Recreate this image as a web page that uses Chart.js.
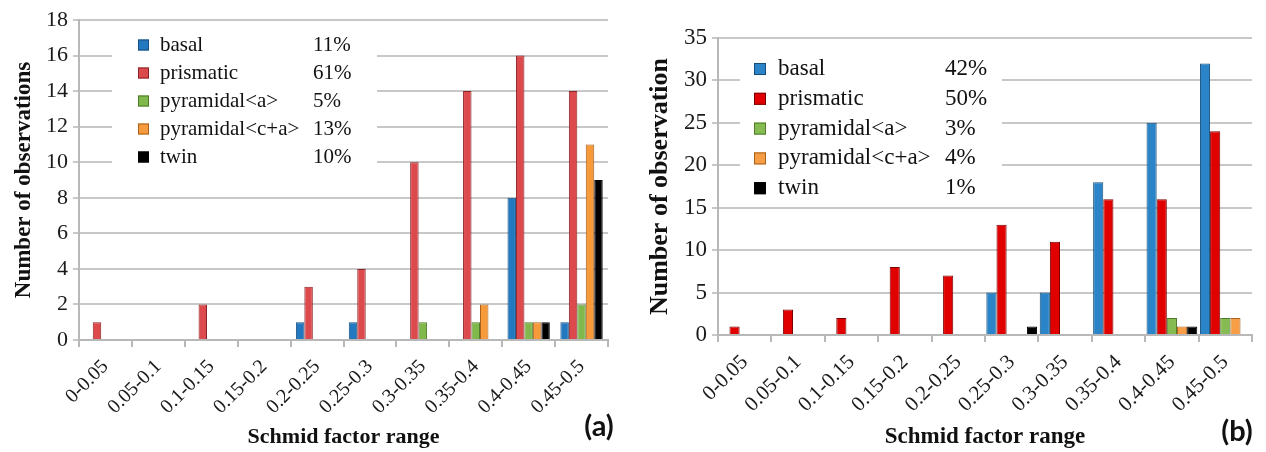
<!DOCTYPE html>
<html>
<head>
<meta charset="utf-8">
<script src="https://cdn.jsdelivr.net/npm/chart.js@4.4.1/dist/chart.umd.min.js"></script>
<style>
  body { margin: 0; background: #fff; }
  #wrap { position: relative; width: 1266px; height: 452px; }
  canvas { position: absolute; top: 0; }
  #chartA { left: 0; }
  #chartB { left: 630px; }
</style>
</head>
<body>
<div id="wrap">
  <canvas id="chartA" width="630" height="452"></canvas>
  <canvas id="chartB" width="636" height="452"></canvas>
</div>
<script>
var ranges = ['0-0.05', '0.05-0.1', '0.1-0.15', '0.15-0.2', '0.2-0.25',
              '0.25-0.3', '0.3-0.35', '0.35-0.4', '0.4-0.45', '0.45-0.5'];
var systems = ['basal', 'prismatic', 'pyramidal<a>', 'pyramidal<c+a>', 'twin'];

// panel (a)
var basalA     = [0, 0, 0, 0, 1, 1, 0, 0, 8, 1];
var prismaticA = [1, 0, 2, 0, 3, 4, 10, 14, 16, 14];
var pyrAA      = [0, 0, 0, 0, 0, 0, 1, 1, 1, 2];
var pyrCAA     = [0, 0, 0, 0, 0, 0, 0, 2, 1, 11];
var twinA      = [0, 0, 0, 0, 0, 0, 0, 0, 1, 9];
var shareA     = ['11%', '61%', '5%', '13%', '10%'];

// panel (b)
var basalB     = [0, 0, 0, 0, 0, 5, 5, 18, 25, 32];
var prismaticB = [1, 3, 2, 8, 7, 13, 11, 16, 16, 24];
var pyrAB      = [0, 0, 0, 0, 0, 0, 0, 0, 2, 2];
var pyrCAB     = [0, 0, 0, 0, 0, 0, 0, 0, 1, 2];
var twinB      = [0, 0, 0, 0, 0, 1, 0, 0, 1, 0];
var shareB     = ['42%', '50%', '3%', '4%', '1%'];

var colorsA = ['#2379c0', '#dc4a4e', '#80b84c', '#f79a3c', '#000000'];
var edgesA  = ['#1a4f80', '#8a2326', '#4f7a28', '#a8601c', '#000000'];
var colorsB = ['#2b84c8', '#e00000', '#85bb50', '#f79d45', '#000000'];
var edgesB  = ['#174d7a', '#7a0000', '#4f7a28', '#a8601c', '#000000'];

var serif = '"Liberation Serif", "Times New Roman", serif';

// white legend panel with a second column of percentages, plus the panel tag
var boxLegend = {
  id: 'boxLegend',
  beforeDatasetsDraw: function (chart, args, o) {
    var ctx = chart.ctx;
    ctx.save();
    ctx.fillStyle = '#fff';
    ctx.fillRect(o.box[0], o.box[1], o.box[2], o.box[3]);
    ctx.font = o.size + 'px ' + serif;
    ctx.textBaseline = 'middle';
    chart.data.datasets.forEach(function (ds, i) {
      var y = o.y0 + i * o.step;
      ctx.fillStyle = ds.backgroundColor;
      ctx.fillRect(o.sx, y - o.sq / 2, o.sq, o.sq);
      ctx.strokeStyle = ds.borderColor;
      ctx.lineWidth = 1;
      ctx.strokeRect(o.sx + 0.5, y - o.sq / 2 + 0.5, o.sq - 1, o.sq - 1);
      ctx.fillStyle = '#111';
      ctx.textAlign = 'left';
      ctx.fillText(ds.label, o.tx, y);
      ctx.fillText(o.shares[i], o.px, y);
    });
    ctx.restore();
  },
  afterDraw: function (chart, args, o) {
    var ctx = chart.ctx;
    ctx.save();
    ctx.font = 'bold 29px Lato, "Open Sans", sans-serif';
    ctx.fillStyle = '#111';
    ctx.textAlign = 'center';
    ctx.textBaseline = 'middle';
    ctx.fillText(o.tag, o.tagX, o.tagY);
    ctx.restore();
  }
};

function drawChart(id, sets, colors, edges, opt) {
  var datasets = sets.map(function (d, i) {
    return {
      label: systems[i],
      data: d,
      backgroundColor: colors[i],
      borderColor: edges[i],
      borderWidth: function (c) { return c.raw ? 1 : 0; },
      borderSkipped: 'start',
      categoryPercentage: opt.catPct,
      barPercentage: 1
    };
  });
  return new Chart(document.getElementById(id), {
    type: 'bar',
    data: { labels: ranges, datasets: datasets },
    options: {
      responsive: false,
      animation: false,
      devicePixelRatio: 1,
      layout: { padding: opt.padding },
      plugins: {
        legend: { display: false },
        tooltip: { enabled: false },
        boxLegend: opt.legend
      },
      scales: {
        x: {
          afterFit: function (s) { s.height = opt.xHeight; },
          grid: { drawOnChartArea: false, tickLength: 7, color: '#b8b8b8', lineWidth: 2 },
          border: { color: '#b8b8b8', width: 2 },
          ticks: {
            autoSkip: false, minRotation: 45, maxRotation: 45, padding: 8,
            color: '#1a1a1a', font: { family: serif, size: opt.xTick }
          },
          title: {
            display: true, text: 'Schmid factor range', color: '#111',
            font: { family: serif, size: opt.xTitle, weight: 'bold' },
            padding: { top: 0, bottom: 1 }
          }
        },
        y: {
          min: 0,
          max: opt.max,
          afterFit: function (s) { s.width = opt.yWidth; },
          grid: { color: '#c8c8c8', lineWidth: 2, tickLength: 6 },
          border: { color: '#b8b8b8', width: 2 },
          ticks: {
            stepSize: opt.step, padding: 5,
            color: '#1a1a1a', font: { family: serif, size: opt.yTick }
          },
          title: {
            display: true, text: opt.yLabel, color: '#111',
            font: { family: serif, size: opt.yTitle, weight: 'bold' },
            padding: { top: 4, bottom: 0 }
          }
        }
      }
    },
    plugins: [boxLegend]
  });
}

drawChart('chartA', [basalA, prismaticA, pyrAA, pyrCAA, twinA], colorsA, edgesA, {
  catPct: 0.8, max: 18, step: 2,
  padding: { left: 6, right: 22, top: 20, bottom: 0 },
  yWidth: 73, xHeight: 112,
  xTick: 20, yTick: 22, xTitle: 22, yTitle: 23,
  yLabel: 'Number of observations',
  legend: {
    box: [112, 28, 265, 157], sx: 138, sq: 11, tx: 160, px: 313,
    y0: 45, step: 28, size: 21, shares: shareA,
    tag: '(a)', tagX: 599, tagY: 427
  }
});

drawChart('chartB', [basalB, prismaticB, pyrAB, pyrCAB, twinB], colorsB, edgesB, {
  catPct: 0.95, max: 35, step: 5,
  padding: { left: 11, right: 14, top: 38, bottom: 0 },
  yWidth: 77, xHeight: 117,
  xTick: 21, yTick: 23, xTitle: 23, yTitle: 26,
  yLabel: 'Number of observation',
  legend: {
    box: [110, 48, 262, 150], sx: 124, sq: 12, tx: 148, px: 315,
    y0: 69, step: 29.8, size: 23, shares: shareB,
    tag: '(b)', tagX: 607, tagY: 432
  }
});
</script>
</body>
</html>
